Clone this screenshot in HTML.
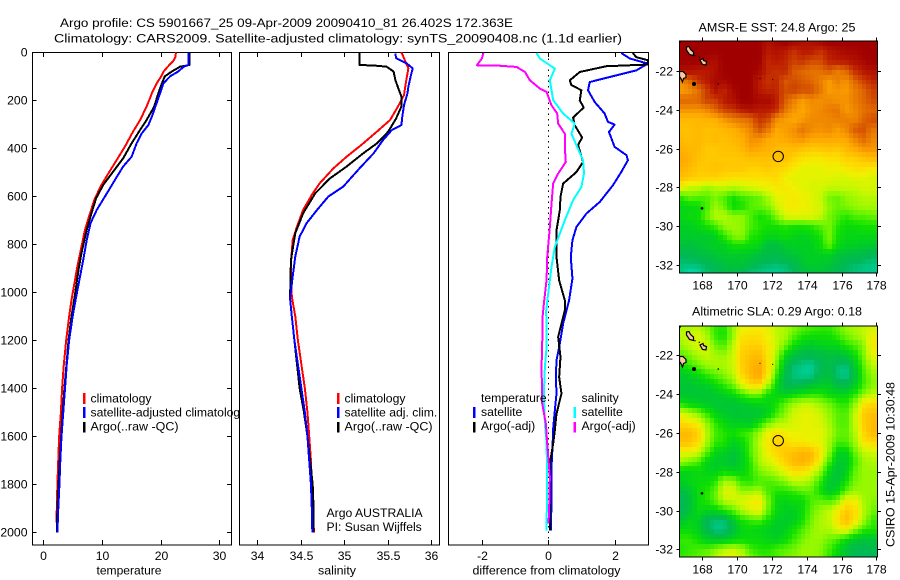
<!DOCTYPE html>
<html>
<head>
<meta charset="utf-8">
<title>Argo profile</title>
<style>
html,body{margin:0;padding:0;background:#fff;width:900px;height:580px;overflow:hidden}
svg{display:block}
text{font-family:"Liberation Sans",sans-serif;font-size:12.2px;fill:#000}
</style>
</head>
<body>
<svg id="chart" xmlns="http://www.w3.org/2000/svg" width="900" height="580" viewBox="0 0 900 580">
  <text x="60" y="27" textLength="453" lengthAdjust="spacingAndGlyphs">Argo profile: CS 5901667_25 09-Apr-2009 20090410_81 26.402S 172.363E</text>
  <text x="54" y="42.5" textLength="568" lengthAdjust="spacingAndGlyphs">Climatology: CARS2009. Satellite-adjusted climatology: synTS_20090408.nc (1.1d earlier)</text>
  <defs>
    <clipPath id="clip-temp"><rect x="32" y="52" width="207.5" height="494"/></clipPath>
    <clipPath id="clip-sal"><rect x="239" y="52" width="201" height="494"/></clipPath>
    <clipPath id="clip-diff"><rect x="448" y="52" width="201" height="494"/></clipPath>
    <clipPath id="clip-sst"><rect x="679" y="41" width="199" height="232"/></clipPath>
    <clipPath id="clip-sla"><rect x="679" y="326" width="199" height="231"/></clipPath>
  </defs>
  <g id="panels"></g>
  <g id="maps"></g>
  <text x="90.5" y="402.5">climatology</text>
  <text x="90.5" y="416.5" clip-path="url(#clip-temp)">satellite-adjusted climatology</text>
  <text x="90.5" y="430.5" textLength="88" lengthAdjust="spacingAndGlyphs">Argo(..raw -QC)</text>
  <rect x="83" y="393" width="2.5" height="11" fill="#f00"/>
  <rect x="83" y="407" width="2.5" height="11" fill="#00f"/>
  <rect x="83" y="422" width="2.5" height="10.5" fill="#000"/>
  <text x="344.5" y="402.5">climatology</text>
  <text x="344.5" y="416.5">satellite adj. clim.</text>
  <text x="344.5" y="430.5" textLength="88" lengthAdjust="spacingAndGlyphs">Argo(..raw -QC)</text>
  <rect x="337" y="393" width="2.5" height="11" fill="#f00"/>
  <rect x="337" y="407" width="2.5" height="11" fill="#00f"/>
  <rect x="337" y="422" width="2.5" height="10.5" fill="#000"/>
  <text x="326.5" y="517">Argo AUSTRALIA</text>
  <text x="326.5" y="531">PI: Susan Wijffels</text>
  <text x="481" y="402">temperature</text>
  <text x="481" y="416">satellite</text>
  <text x="481" y="430">Argo(-adj)</text>
  <rect x="473" y="407" width="2.5" height="11" fill="#00f"/>
  <rect x="473" y="422" width="2.5" height="10.5" fill="#000"/>
  <text x="581.5" y="402">salinity</text>
  <text x="581.5" y="416">satellite</text>
  <text x="581.5" y="430">Argo(-adj)</text>
  <rect x="573.5" y="407" width="2.5" height="11" fill="#0ff"/>
  <rect x="573.5" y="422" width="2.5" height="10.5" fill="#f0f"/>
  <text transform="translate(894.5,464.5) rotate(-90)" text-anchor="middle" textLength="165" lengthAdjust="spacingAndGlyphs">CSIRO 15-Apr-2009 10:30:48</text>
</svg>
<script>
// ---- temperature profiles ----
const climTempDepth = [0,20,30,40,50,60,80,100,130,170,190,226,282,330,393,449,504,553,608,671,740,810,893,1025,1100,1200,1300,1400,1500,1600,1700,1800,1900,1960];
const climTemp = [22.6,22.5,22.3,22,21.6,21.2,20.5,20.1,19.3,18.5,18.2,17.6,16.5,15.3,13.9,12.5,11.1,9.9,8.8,7.95,7.1,6.5,5.8,4.85,4.4,3.9,3.5,3.2,3,2.7,2.55,2.4,2.3,2.25];
const satTempDepth = [0,53,60,80,100,130,170,212,268,303,337,379,435,476,532,601,657,712,782,865,935,1025,1100,1200,1300,1400,1500,1600,1700,1800,1900,2000];
const satTemp = [24.7,24.7,23.9,23,21.6,20.45,19.9,19.3,18.5,17.9,16.8,15.9,15.05,13.6,12.2,10.5,9.1,8.05,7.4,6.8,6.25,5.55,5,4.4,4,3.7,3.4,3.1,2.9,2.75,2.55,2.4];
const argoTempDepth = [0,53,60,80,100,130,170,226,282,323,379,442,497,553,608,671,740,837,907,1025,1100,1200,1300,1400,1500,1600,1700,1800,1900,2000];
const argoTemp = [24.9,24.9,23.3,21.9,20.7,20.2,19.6,18.9,17.6,16.5,15.05,13.6,11.9,10.2,9,8.2,7.4,6.5,6,5.3,4.8,4.3,3.95,3.6,3.3,3.05,2.8,2.6,2.4,2.3];

// ---- salinity profiles ----
const climSalDepth = [0,25,67,129,178,226,282,330,386,435,483,546,594,657,726,782,880,1018,1100,1200,1300,1400,1500,1600,1700,1800,1900,2000];
const climSal = [35.66,35.69,35.74,35.71,35.69,35.62,35.53,35.38,35.2,35.03,34.88,34.72,34.63,34.53,34.46,34.41,34.39,34.4,34.44,34.47,34.51,34.55,34.58,34.6,34.62,34.63,34.64,34.655];
const satSalDepth = [5,25,46,67,95,143,170,220,268,303,324,365,421,483,560,601,657,712,768,851,935,1025,1100,1200,1300,1400,1500,1600,1700,1800,1900,2000];
const satSal = [35.59,35.6,35.72,35.79,35.77,35.74,35.73,35.69,35.67,35.66,35.55,35.45,35.34,35.18,34.99,34.82,34.69,34.57,34.49,34.44,34.41,34.38,34.4,34.43,34.47,34.51,34.55,34.58,34.6,34.62,34.63,34.636];
const argoSalDepth = [0,53,55,60,80,115,146,185,226,275,330,379,421,476,525,587,671,754,865,1025,1100,1200,1300,1400,1500,1600,1700,1800,1900,2000];
const argoSal = [35.18,35.18,35.34,35.49,35.57,35.59,35.62,35.66,35.66,35.6,35.51,35.38,35.22,35.03,34.84,34.67,34.53,34.44,34.39,34.38,34.4,34.43,34.46,34.49,34.54,34.58,34.61,34.64,34.65,34.65];

// ---- differences from climatology ----
const satTempDiffDepth = [3,26,47,75,103,124,158,207,255,290,301,332,394,429,450,499,554,624,672,728,783,853,943,1033,1130,1214,1283,1353,1422,1492,1567,1644,1728,1867,1992];
const satTempDiff = [2.2,2.46,3,2.66,1.85,1.25,1.2,1.4,1.7,1.8,2,1.83,2,2.36,2.4,2.2,1.95,1.55,1.15,.85,.73,.68,.73,.63,.45,.35,.25,.23,.25,.2,.15,.13,.1,.1,.08];
const argoTempDiffDepth = [3,20,33,51,58,82,117,137,158,200,230,272,304,355,387,457,499,547,603,658,742,853,950,1033,1075,1130,1186,1269,1353,1422,1506,1575,1630,1714,1825,1992];
const argoTempDiff = [2.55,2.65,3,3,1.75,.95,.65,.7,1,.95,1.07,.75,.8,1.02,.9,1.05,.85,.45,.37,.35,.25,.25,.33,.5,.5,.4,.3,.37,.33,.4,.25,.2,.15,.05,.05,.05];
const satSalDiffDepth = [3,26,68,117,200,255,297,339,387,450,505,561,616,700,811,894,1005,1075,1228,1311,1422,1547,1630,1769,1992];
const satSalDiff = [-.35,-.25,.2,.05,.15,.45,.8,.7,.85,1.05,1.08,1,.75,.5,.2,.1,0,-.06,-.05,-.1,-.13,-.1,-.05,-.03,-.05];
const argoSalDiffDepth = [3,26,54,55,61,82,117,151,165,221,255,297,339,394,457,505,547,630,728,853,950,1047,1103,1214,1311,1464,1547,1630,1769,1894,1964];
const argoSalDiff = [-1.95,-2,-2.15,-1.55,-.95,-.7,-.55,-.25,-.05,.1,.27,.3,.5,.5,.53,.3,.15,.1,.05,-.03,-.05,-.13,-.17,-.18,-.2,-.18,-.07,-.03,.05,.03,.01];

// ---- axis tick labels ----
const depthTicks = [0,200,400,600,800,1000,1200,1400,1600,1800,2000];
const tempTicks = [0,10,20,30];
const salTicks = [34,34.5,35,35.5,36];
const diffTicks = [-2,0,2];
const lonTicks = [168,170,172,174,176,178];
const latTicks = [-22,-24,-26,-28,-30,-32];

// ---- float position ----
const floatLon = 172.363;
const floatLat = -26.402;

// ---- gridded fields, 0.5 degree nodes: rows from 20.5S to 32.5S, columns from 166.75E to 177.75E ----
const sstGrid = [
[26.5,26.5,26.5,26.5,26.5,26.5,26.5,26.5,26.5,26.5,26.3,26.4,26.5,26.4,26.3,26.3,26.4,26.5,26.5,26.5,26.5,26.5,26.5],
[26.5,26.5,26.5,26.5,26.5,26.5,26.5,26.5,26.5,26.5,26.2,26.3,26.2,26,26.2,26.2,26,26.2,26.3,26.4,26.4,26.5,26.5],
[26.5,26.5,26.5,26.4,26.3,26.5,26.5,26.5,26.5,26.5,26.1,26.2,26.1,25.9,26,25.8,25.8,26.1,26.2,26.2,26.3,26.4,26.5],
[26.3,26.3,26.2,26.2,26.3,26.5,26.5,26.5,26.5,26.4,26.1,26,26.1,25.7,25.6,25.5,25.5,25.7,25.4,25.6,26,26.2,26.3],
[25.3,25.6,26,26.2,26.4,26.4,26.5,26.5,26.5,26.2,26,26.1,25.7,25.8,25.7,25.6,25.4,25.1,25.4,25.2,25.6,25.9,26.1],
[25.1,25.2,25.5,25.9,26.3,26.1,26.4,26.5,26.5,26.2,26.1,26.1,25.8,25.9,25.8,25.8,25.5,25.1,25.2,25.1,25.4,25.6,25.9],
[25.6,25.6,25.6,25.9,25.9,26.2,26.3,26.5,26.5,26.4,26.4,26.2,25.7,25.4,25.1,25.3,25.2,25.3,25.2,25.2,25.4,25.6,25.8],
[25.2,25.2,25.2,25.3,25.6,25.9,26,26.2,26.3,26.2,26.2,26.1,25.5,25.2,25,25.2,25.3,25.4,25.5,25.1,25.3,25.5,25.6],
[24.8,24.8,24.8,24.9,24.9,25.2,25.4,25.5,25.6,26,25.9,25.3,25.1,25,25.1,25.3,25.3,25.3,25.4,25.4,25.3,25.6,25.8],
[24.7,24.7,24.8,24.7,24.7,24.8,24.9,25.1,25.3,25.8,25.5,25,25.1,25.2,25.5,25.3,25.2,25.3,25.1,25.3,25.7,25.8,25.5],
[24.8,24.7,24.8,24.7,24.8,24.7,24.8,24.9,25.2,25.2,25,24.9,25,25.1,25.2,25,25,25,25,25,25.3,25.6,25.3],
[24.9,24.8,24.8,24.6,24.6,24.7,24.7,24.8,25.1,25,24.9,24.8,24.7,24.8,24.7,24.6,24.6,24.7,24.6,24.8,25,25.2,25.2],
[25,24.9,24.7,24.6,24.6,24.6,24.6,24.6,24.7,24.7,24.7,24.7,24.7,24.5,24.3,24.2,24.2,24.3,24.3,24.5,24.5,24.7,24.8],
[24.9,24.8,24.6,24.6,24.7,24.6,24.6,24.6,24.5,24.5,24.6,24.5,24.4,24.2,24,24,24,24.1,24.1,24.2,24.3,24.3,24.2],
[24.7,24.6,24.5,24.5,24.5,24.4,24.3,24.3,24.3,24.3,24.3,24.4,24.1,24,24,24,24,24,23.9,23.9,24,24,23.9],
[24.1,23.8,23.8,23.6,23.7,23.8,23.7,23.8,23.9,24,24.1,24.2,24.2,24.1,24,23.9,23.9,23.8,23.8,23.8,23.8,23.9,23.9],
[23,23.3,23.2,23.2,23.4,23.2,22.9,23.1,23.2,23.3,23.6,24,24.1,24.2,24.1,24,23.8,23.4,23.3,23.5,23.6,23.7,23.7],
[22.7,22.7,22.8,23.1,23.6,23.3,22.8,22.9,23.2,23.3,23.4,23.8,24.1,24.2,24.1,24,23.9,23.5,23.3,23.4,23.5,23.6,23.6],
[22.7,22.8,22.8,23.3,23.7,23.7,23.5,23.5,23.2,22.9,23,23.4,23.9,24,24,24,23.8,23.4,23.2,23,23.2,23.2,23.3],
[22.6,22.6,22.7,22.9,23.1,23.5,23.6,23.5,23.2,23,22.9,22.9,23,22.9,22.9,23,23.2,23.4,23,22.8,22.8,22.9,22.9],
[22.5,22.5,22.5,22.5,22.6,23,23.4,23.5,23,22.9,22.7,22.7,22.8,22.7,22.6,22.7,22.9,23.4,22.9,22.7,22.7,22.7,22.7],
[22.4,22.3,22.4,22.5,22.6,22.6,22.9,22.9,22.8,22.7,22.3,22.3,22.5,22.6,22.6,22.6,22.8,23.3,22.8,22.6,22.6,22.5,22.5],
[22,22.1,22.2,22.3,22.4,22.5,22.5,22.5,22.5,22.3,22.2,22.2,22.3,22.4,22.5,22.6,22.6,22.6,22.4,22.3,22.2,22.2,22],
[21.8,21.8,21.8,22,22.1,22.3,22.4,22.4,22.2,22,21.9,21.8,21.9,22.1,22.4,22.5,22.5,22.4,22.2,22,21.9,21.8,21.7],
[21.7,21.4,21.5,21.8,22,22.1,22.1,21.9,21.7,21.7,21.6,21.6,21.7,21.9,22.1,22.3,22.3,22.2,22,21.9,21.8,21.7,21.7]
];
const slaGrid = [
[.12,.12,.13,.08,0,-.02,.1,.2,.22,.22,.2,.14,.12,.08,.04,.02,0,0,.04,.1,.12,.14,.16],
[.14,.16,.18,.12,0,-.04,.1,.24,.26,.26,.22,.15,.12,.04,-.02,-.04,-.04,-.04,0,.06,.1,.14,.22],
[.1,.14,.18,.16,.06,.02,.14,.28,.3,.3,.24,.16,.06,-.04,-.1,-.12,-.1,-.08,-.08,-.02,.02,.08,.24],
[.03,.06,.12,.15,.12,.1,.16,.3,.34,.36,.26,.12,-.06,-.16,-.2,-.2,-.18,-.16,-.16,-.14,-.06,.06,.2],
[-.03,0,.05,.1,.12,.12,.16,.3,.36,.4,.28,.08,-.14,-.25,-.28,-.3,-.22,-.18,-.24,-.26,-.12,.03,.14],
[-.12,-.1,-.06,0,.04,.08,.14,.28,.36,.42,.26,.02,-.18,-.27,-.3,-.3,-.2,-.16,-.26,-.3,-.16,0,.1],
[-.14,-.14,-.12,-.1,-.06,0,.06,.18,.28,.3,.14,-.06,-.2,-.22,-.2,-.16,-.12,-.12,-.18,-.2,-.12,0,.08],
[-.14,-.14,-.14,-.14,-.12,-.1,-.06,0,.06,.06,-.04,-.08,-.1,-.06,-.04,-.02,-.02,-.06,-.08,-.08,-.02,.08,.14],
[-.04,-.08,-.1,-.12,-.14,-.14,-.14,-.12,-.1,-.08,-.08,-.04,.04,.1,.14,.14,.1,.06,0,-.02,.08,.24,.28],
[.18,.14,.08,0,-.08,-.12,-.14,-.14,-.14,-.14,-.1,0,.08,.16,.2,.2,.16,.1,.04,.02,.14,.3,.34],
[.28,.26,.22,.1,0,-.06,-.1,-.1,-.12,-.04,.06,.12,.14,.18,.2,.2,.18,.12,.04,.02,.14,.3,.36],
[.36,.36,.3,.14,.02,-.02,-.04,0,.02,.1,.2,.26,.22,.2,.2,.2,.2,.14,.06,.04,.12,.28,.36],
[.34,.34,.28,.12,0,-.02,-.1,-.06,.02,.14,.24,.3,.28,.24,.24,.22,.2,.12,.02,.02,.1,.24,.28],
[.2,.2,.16,.04,-.08,-.1,-.14,-.1,.02,.12,.22,.28,.32,.34,.38,.36,.26,.1,-.08,-.1,.04,.14,.16],
[.1,.06,.02,-.08,-.12,-.12,-.16,-.1,-.02,.12,.16,.22,.3,.36,.38,.34,.2,.02,-.12,-.12,0,.1,.12],
[-.08,-.08,-.06,-.08,-.1,-.06,-.08,-.08,-.02,.06,.1,.14,.2,.26,.26,.2,.1,-.06,-.16,-.1,.04,.1,.1],
[-.1,-.08,-.06,-.06,-.02,.12,.1,0,-.02,.02,.02,.04,.08,.14,.14,.1,0,-.12,-.14,-.04,.06,.1,.1],
[-.18,-.14,-.06,-.02,.04,.18,.18,.1,.1,.12,.02,-.02,-.02,0,.04,.04,-.04,-.12,-.08,.04,.1,.1,.1],
[-.22,-.16,-.06,-.02,.04,.14,.16,.18,.22,.24,.08,-.06,-.08,-.06,-.06,.02,.04,.02,.06,.22,.22,.12,.08],
[-.22,-.16,-.06,-.08,-.08,-.02,.04,.12,.18,.22,.06,-.06,-.1,-.1,-.06,.04,.1,.14,.22,.32,.28,.14,.06],
[-.14,-.08,-.1,-.22,-.26,-.26,-.14,-.04,0,.02,-.04,-.1,-.12,-.1,-.04,.06,.12,.14,.24,.36,.26,.12,0],
[-.06,-.06,-.1,-.2,-.28,-.28,-.16,-.08,-.06,-.08,-.1,-.12,-.1,-.04,.02,.08,.12,.12,.18,.22,.1,0,-.02],
[0,0,-.04,-.1,-.12,-.12,-.08,-.06,-.06,-.06,-.08,-.1,-.06,0,.06,.1,.1,.06,.02,-.06,-.12,-.14,-.14],
[-.02,0,.02,.04,.08,.14,.16,.12,.02,-.02,-.02,.02,.04,.06,.1,.1,.08,.02,-.06,-.14,-.2,-.22,-.2],
[0,.02,.04,.06,.12,.2,.22,.16,.08,.02,0,.02,.06,.08,.1,.1,.08,0,-.08,-.14,-.2,-.22,-.2]
];

const NS = 'http://www.w3.org/2000/svg';
function svgEl(tag, attrs, parent) {
  const el = document.createElementNS(NS, tag);
  for (const k in attrs) el.setAttribute(k, attrs[k]);
  if (parent) parent.appendChild(el);
  return el;
}
const panelsRoot = document.getElementById('panels');
const mapsRoot = document.getElementById('maps');

// axis functions
const depthY = d => 52.3 + 0.24 * d;
const tempX = v => 43.3 + 5.87 * v;
const salX = v => 257 + 87 * (v - 34);
const diffX = v => 548.2 + 33.2 * v;

function drawTick(parent, name, x1, y1, x2, y2) {
  const t = svgEl('line', {x1: x1, y1: y1, x2: x2, y2: y2, stroke: '#000', 'stroke-width': 1, 'shape-rendering': 'crispEdges'}, parent);
  
  
}
function drawLabel(parent, name, x, y, str, anchor) {
  const t = svgEl('text', {x: x, y: y, 'text-anchor': anchor}, parent);
  
  
  t.textContent = str;
  return t;
}
function drawPanel(key, left, right, xFn, ticks, xTitle, titleX, titleLen, yTicksToo) {
  const g = svgEl('g', {}, panelsRoot);
  
  
  const bg = svgEl('rect', {x: left, y: 52, width: right - left, height: 493, fill: '#fff'}, g);
  
  
  ticks.forEach(v => {
    const x = Math.round(xFn(v)) + 0.5;
    drawTick(g, key + '-x-tick-top', x, 52, x, 57);
    drawTick(g, key + '-x-tick-bottom', x, 545, x, 540);
    drawLabel(g, key + '-x-tick-label', x, 560, String(v), 'middle');
  });
  if (yTicksToo) {
    depthTicks.forEach(d => {
      const y = Math.round(depthY(d)) + 0.5;
      drawTick(g, key + '-y-tick-left', left, y, left + 4.5, y);
      drawTick(g, key + '-y-tick-right', right, y, right - 5, y);
      drawLabel(g, key + '-y-tick-label', 27.5, y + 4, d, 'end');
    });
  }
  const title = drawLabel(g, key + '-x-axis-title', titleX, 574.5, xTitle, 'middle');
  title.setAttribute('textLength', titleLen);
  title.setAttribute('lengthAdjust', 'spacingAndGlyphs');
  return g;
}
function drawFrame(g, key, left, right) {
  const f = svgEl('rect', {x: left + .5, y: 52.5, width: right - left - 1, height: 492.5, fill: 'none', stroke: '#000', 'stroke-width': 1, 'shape-rendering': 'crispEdges'}, g);
  
  
}
function drawSeries(g, name, xFn, depths, values, color, width, clip) {
  const pts = values.map((v, i) => xFn(v).toFixed(2) + ',' + depthY(depths[i]).toFixed(2)).join(' ');
  const p = svgEl('polyline', {points: pts, fill: 'none', stroke: color, 'stroke-width': width, 'stroke-linejoin': 'round', 'shape-rendering': 'crispEdges', 'clip-path': 'url(#' + clip + ')'}, g);
  
  
}

const tempPanel = drawPanel('temperature', 32, 232, tempX, tempTicks, 'temperature', 129, 65, true);
drawFrame(tempPanel, 'temperature', 32, 232);
drawSeries(tempPanel, 'temperature-climatology-line', tempX, climTempDepth, climTemp, '#f00', 2, 'clip-temp');
drawSeries(tempPanel, 'temperature-argo-line', tempX, argoTempDepth, argoTemp, '#000', 2, 'clip-temp');
drawSeries(tempPanel, 'temperature-satellite-line', tempX, satTempDepth, satTemp, '#00f', 2, 'clip-temp');

const salPanel = drawPanel('salinity', 239, 440, salX, salTicks, 'salinity', 337, 38, false);
drawFrame(salPanel, 'salinity', 239, 440);
drawSeries(salPanel, 'salinity-climatology-line', salX, climSalDepth, climSal, '#f00', 2, 'clip-sal');
drawSeries(salPanel, 'salinity-argo-line', salX, argoSalDepth, argoSal, '#000', 2, 'clip-sal');
drawSeries(salPanel, 'salinity-satellite-line', salX, satSalDepth, satSal, '#00f', 2, 'clip-sal');

const diffPanel = drawPanel('difference', 448, 649, diffX, diffTicks, 'difference from climatology', 546.5, 148, false);
drawFrame(diffPanel, 'difference', 448, 649);
const zeroLine = svgEl('line', {x1: 548.5, y1: 53, x2: 548.5, y2: 545, stroke: '#000', 'stroke-width': 1, 'stroke-dasharray': '1.5 4', 'shape-rendering': 'crispEdges'}, diffPanel);


drawSeries(diffPanel, 'temperature-satellite-diff-line', diffX, satTempDiffDepth, satTempDiff, '#00f', 2, 'clip-diff');
drawSeries(diffPanel, 'temperature-argo-diff-line', diffX, argoTempDiffDepth, argoTempDiff, '#000', 2, 'clip-diff');
drawSeries(diffPanel, 'salinity-satellite-diff-line', diffX, satSalDiffDepth, satSalDiff, '#0ff', 2, 'clip-diff');
drawSeries(diffPanel, 'salinity-argo-diff-line', diffX, argoSalDiffDepth, argoSalDiff, '#f0f', 2, 'clip-diff');

// ---- maps ----
const palette = ['#00e0c4','#00c888','#00b858','#00c040','#00d020','#10e000','#50f000','#90f800','#c8f800','#f0f000','#ffd800','#ffc000','#ffa800','#f08800','#e06800','#cc4000','#b81800','#a00000'];
function hexToRgb(h) { return [1, 3, 5].map(i => parseInt(h.substr(i, 2), 16)); }
function colorAt(t) {
  const f = Math.max(0, Math.min(1, t)) * (palette.length - 1);
  const i = Math.min(palette.length - 2, Math.floor(f));
  const a = hexToRgb(palette[i]), b = hexToRgb(palette[i + 1]);
  const m = f - i;
  return 'rgb(' + a.map((c, k) => Math.round(c + (b[k] - c) * m)).join(',') + ')';
}
function sampleGrid(grid, lon, lat) {
  const cf = Math.max(0, Math.min(22, (lon - 166.75) / 0.5));
  const rf = Math.max(0, Math.min(24, (-20.5 - lat) / 0.5));
  const c = Math.min(21, Math.floor(cf)), r = Math.min(23, Math.floor(rf));
  const u = cf - c, w = rf - r;
  return (grid[r][c] * (1 - u) + grid[r][c + 1] * u) * (1 - w) + (grid[r + 1][c] * (1 - u) + grid[r + 1][c + 1] * u) * w;
}
function drawMap(key, grid, vMin, vMax, top, bottom, lat22Y, titleText, titleY, titleLen, xLabelY, clip) {
  const g = svgEl('g', {}, mapsRoot);
  
  
  const lonX = lon => 702.3 + 17.4 * (lon - 168);
  const latY = lat => lat22Y + 19.4 * (-22 - lat);
  const cells = svgEl('g', {'clip-path': 'url(#' + clip + ')', 'shape-rendering': 'crispEdges'}, g);
  
  
  const topLat = -22 + (lat22Y - top) / 19.4;
  for (let i = 0; i < 49; i++) {
    for (let j = 0; j < 46; j++) {
      const lon = 166.68 + 0.25 * j, lat = topLat - 0.25 * i;
      const v = sampleGrid(grid, lon + 0.125, lat - 0.125);
      const x0 = Math.round(lonX(lon)), x1 = Math.round(lonX(lon + 0.25));
      const y0 = Math.round(latY(lat)), y1 = Math.round(latY(lat - 0.25));
      const cell = svgEl('rect', {x: x0, y: y0, width: x1 - x0, height: y1 - y0, fill: colorAt((v - vMin) / (vMax - vMin))}, cells);
      
      
    }
  }
  // land: islands drawn relative to the map's top edge
  const landClip = svgEl('g', {'clip-path': 'url(#' + clip + ')'}, g);
  
  
  const land = svgEl('g', {transform: 'translate(0,' + (top - 40.7) + ')'}, landClip);
  
  
  ['M686.5,47 L689,46.5 L690.5,49.5 L693.5,52 L693.5,55.5 L689.5,54.5 L686.5,50 Z',
   'M700,60 L703,58.5 L703.5,60.5 L706.5,61.5 L706,65 L702.5,64.5 Z',
   'M679.5,71.5 L683,71.5 L686,74.5 L686,77.5 L683.5,78.5 L682.5,82 L681,78.5 L679.5,76.5 Z'].forEach(d => {
    const isl = svgEl('path', {d: d, fill: '#f8c8a0', stroke: '#000', 'stroke-width': 1.2}, land);
    
    
  });
  [[694, 84, 2], [702, 208.3, 1.3], [718.3, 84, .8], [760, 78.3, .6], [772.7, 79.3, .6], [680, 41.7, 1], [695, 55.7, .7], [699.3, 57.3, .7]].forEach(p => {
    const dot = svgEl('circle', {cx: p[0], cy: p[1], r: p[2], fill: '#000'}, land);
    
    
  });
  const frame = svgEl('rect', {x: 679.5, y: top + .5, width: 198, height: bottom - top, fill: 'none', stroke: '#000', 'stroke-width': 1, 'shape-rendering': 'crispEdges'}, g);
  
  
  lonTicks.forEach(l => {
    const x = Math.round(lonX(l)) + 0.5;
    drawTick(g, key + '-lon-tick-top', x, top, x, top - 3);
    drawTick(g, key + '-lon-tick-bottom', x, bottom + 1, x, bottom + 4);
    drawLabel(g, key + '-lon-tick-label', x, xLabelY, l, 'middle');
  });
  latTicks.forEach(l => {
    const y = Math.round(latY(l)) + 0.5;
    drawTick(g, key + '-lat-tick-left', 679, y, 676.5, y);
    drawTick(g, key + '-lat-tick-right', 878, y, 881, y);
    drawLabel(g, key + '-lat-tick-label', 673, y + 4, l, 'end');
  });
  const mark = svgEl('circle', {cx: lonX(floatLon), cy: latY(floatLat), r: 5.2, fill: 'none', stroke: '#000', 'stroke-width': 1}, g);
  
  
  const title = drawLabel(g, key + '-title', 777, titleY, titleText, 'middle');
  title.setAttribute('textLength', titleLen);
  title.setAttribute('lengthAdjust', 'spacingAndGlyphs');
}
drawMap('sst', sstGrid, 21.4, 26.5, 40.7, 272.7, 71, 'AMSR-E SST: 24.8 Argo: 25', 31.5, 157, 289.5, 'clip-sst');
drawMap('sla', slaGrid, -0.35, 0.72, 325.7, 556.7, 355.3, 'Altimetric SLA: 0.29 Argo: 0.18', 315.5, 170, 573.5, 'clip-sla');
</script>
</body>
</html>
